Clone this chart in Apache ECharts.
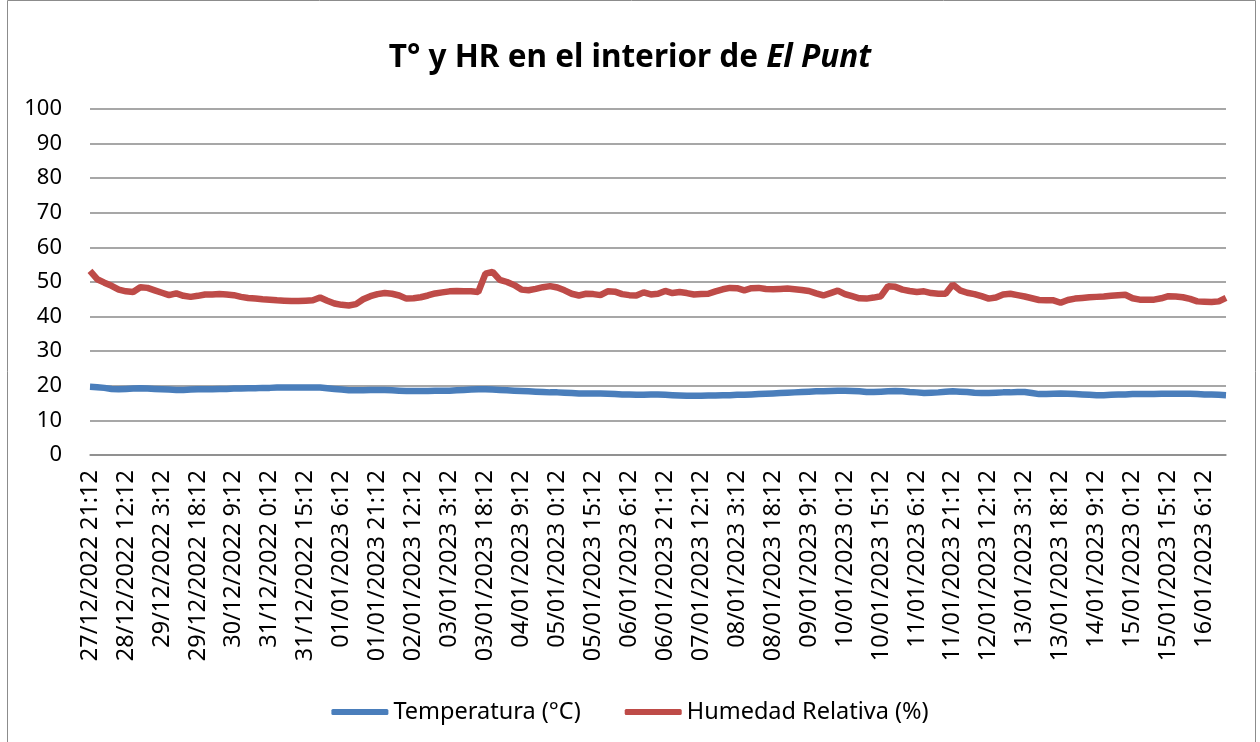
<!DOCTYPE html>
<html>
<head>
<meta charset="utf-8">
<title>T° y HR en el interior de El Punt</title>
<script src="https://cdn.jsdelivr.net/npm/echarts@6/dist/echarts.min.js"></script>
<style>
  html, body { margin: 0; padding: 0; background: #fff; }
  #chart { width: 1260px; height: 742px; }
</style>
</head>
<body>
<div id="chart"></div>
<script>
// serie cada 3 horas desde 27/12/2022 21:12
const startTime = Date.UTC(2022, 11, 27, 21, 12)
const stepHours = 3

const humedad = [
  53.2, 50.8, 49.8, 48.9, 47.8, 47.3, 47.1, 48.5, 48.3, 47.6,
  46.9, 46.2, 46.7, 46.0, 45.7, 46.0, 46.4, 46.4, 46.5, 46.4,
  46.2, 45.7, 45.4, 45.2, 45.0, 44.9, 44.7, 44.6, 44.5, 44.5,
  44.6, 44.7, 45.5, 44.6, 43.8, 43.4, 43.2, 43.6, 45.0, 45.9,
  46.5, 46.8, 46.6, 46.1, 45.2, 45.3, 45.6, 46.1, 46.7, 47.0,
  47.3, 47.4, 47.3, 47.3, 47.1, 52.4, 52.9, 50.6, 50.0, 49.1,
  47.8, 47.6, 48.0, 48.5, 48.8, 48.4, 47.6, 46.6, 46.1, 46.6,
  46.5, 46.2, 47.3, 47.2, 46.5, 46.2, 46.1, 47.0, 46.4, 46.6,
  47.4, 46.8, 47.1, 46.8, 46.4, 46.5, 46.6, 47.3, 47.9, 48.3,
  48.2, 47.6, 48.2, 48.3, 48.0, 47.9, 48.0, 48.1, 47.9, 47.7,
  47.4, 46.7, 46.1, 46.8, 47.5, 46.5, 45.9, 45.3, 45.2, 45.5,
  45.9, 48.8, 48.6, 47.8, 47.4, 47.1, 47.3, 46.8, 46.6, 46.6,
  49.3, 47.6, 46.9, 46.5, 45.9, 45.2, 45.5, 46.4, 46.6, 46.2,
  45.8, 45.3, 44.8, 44.7, 44.7, 44.0, 44.8, 45.2, 45.4, 45.6,
  45.7, 45.8, 46.0, 46.2, 46.3, 45.3, 44.9, 44.9, 44.9, 45.3,
  45.9, 45.8, 45.6, 45.1, 44.4, 44.3, 44.2, 44.4, 45.4
]

const temperatura = [
  19.7, 19.6, 19.4, 19.1, 19.0, 19.1, 19.2, 19.3, 19.2, 19.1,
  19.0, 18.9, 18.8, 18.8, 18.9, 19.0, 19.0, 19.0, 19.1, 19.1,
  19.2, 19.2, 19.3, 19.3, 19.4, 19.4, 19.5, 19.5, 19.5, 19.5,
  19.5, 19.5, 19.5, 19.3, 19.1, 18.9, 18.7, 18.7, 18.7, 18.8,
  18.8, 18.8, 18.7, 18.6, 18.5, 18.5, 18.5, 18.5, 18.6, 18.6,
  18.6, 18.7, 18.8, 18.9, 19.0, 19.0, 18.9, 18.8, 18.7, 18.6,
  18.5, 18.4, 18.3, 18.2, 18.1, 18.1, 18.0, 17.9, 17.8, 17.8,
  17.8, 17.8, 17.7, 17.6, 17.5, 17.5, 17.4, 17.4, 17.5, 17.5,
  17.4, 17.3, 17.2, 17.1, 17.1, 17.1, 17.2, 17.2, 17.3, 17.3,
  17.4, 17.4, 17.5, 17.6, 17.7, 17.8, 17.9, 18.0, 18.1, 18.2,
  18.3, 18.4, 18.4, 18.5, 18.6, 18.6, 18.5, 18.4, 18.2, 18.2,
  18.3, 18.4, 18.5, 18.4, 18.2, 18.1, 17.9, 18.0, 18.1, 18.3,
  18.4, 18.3, 18.2, 18.0, 17.9, 17.9, 18.0, 18.1, 18.1, 18.2,
  18.2, 17.9, 17.6, 17.6, 17.7, 17.8, 17.7, 17.6, 17.5, 17.4,
  17.3, 17.3, 17.4, 17.5, 17.5, 17.6, 17.6, 17.6, 17.6, 17.7,
  17.7, 17.7, 17.7, 17.7, 17.6, 17.5, 17.5, 17.4, 17.3
]

const seriesNames = ['Temperatura (°C)', 'Humedad Relativa (%)']
const colors = ['#4A7EBB', '#BE4B48']
const font = '"Noto Sans", "Open Sans", sans-serif'

function pad(n) {
  return n < 10 ? '0' + n : '' + n
}

// etiquetas tipo Excel: dd/mm/aaaa h:mm
const categories = humedad.map((v, i) => {
  const d = new Date(startTime + i * stepHours * 3600 * 1000)
  return pad(d.getUTCDate()) + '/' + pad(d.getUTCMonth() + 1) + '/' + d.getUTCFullYear() +
    ' ' + d.getUTCHours() + ':' + pad(d.getUTCMinutes())
})

const chart = echarts.init(document.getElementById('chart'))

chart.setOption({
  animation: false,
  color: colors,
  textStyle: { fontFamily: font },
  title: {
    text: '{b|T° y HR en el interior de }{i|El Punt}',
    left: 'center',
    top: 37,
    textStyle: {
      rich: {
        b: { fontFamily: font, fontSize: 31.5, fontWeight: 'bold', color: '#000' },
        i: { fontFamily: font, fontSize: 31.5, fontWeight: 'bold', fontStyle: 'italic', color: '#000' }
      }
    }
  },
  graphic: [{
    type: 'rect',
    shape: { x: 7.5, y: 0.5, width: 1248, height: 760 },
    style: { fill: 'none', stroke: '#8c8c8c', lineWidth: 1 },
    silent: true
  }],
  grid: {
    left: 90,
    right: 34,
    top: 109,
    bottom: 287,
    containLabel: false
  },
  legend: {
    bottom: 13,
    left: 'center',
    itemWidth: 57,
    itemHeight: 6,
    itemGap: 44,
    icon: 'roundRect',
    selectedMode: false,
    textStyle: { fontFamily: font, fontSize: 23.5, color: '#000' },
    data: seriesNames
  },
  xAxis: {
    type: 'category',
    data: categories,
    boundaryGap: false,
    axisTick: { show: false },
    axisLine: { show: true, lineStyle: { color: '#8a8a8a', width: 1.5 } },
    axisLabel: {
      interval: 4,
      rotate: 90,
      margin: 15,
      fontFamily: font,
      fontSize: 23.5,
      color: '#000'
    }
  },
  yAxis: {
    type: 'value',
    min: 0,
    max: 100,
    interval: 10,
    axisLine: { show: false },
    axisTick: { show: false },
    splitLine: { lineStyle: { color: '#8a8a8a', width: 1.5 } },
    axisLabel: {
      margin: 28,
      fontFamily: font,
      fontSize: 22,
      color: '#000'
    }
  },
  series: [{
    name: seriesNames[0],
    type: 'line',
    data: temperatura,
    showSymbol: false,
    lineStyle: { width: 6.5, color: colors[0] },
    itemStyle: { color: colors[0] }
  }, {
    name: seriesNames[1],
    type: 'line',
    data: humedad,
    showSymbol: false,
    lineStyle: { width: 6.5, color: colors[1] },
    itemStyle: { color: colors[1] }
  }]
})
</script>
</body>
</html>
